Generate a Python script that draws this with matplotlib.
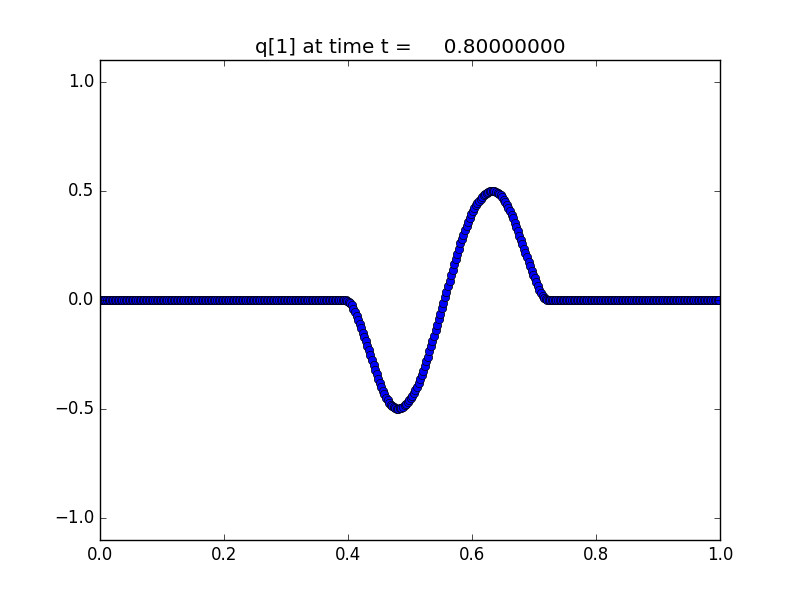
import numpy as np
import matplotlib
matplotlib.use('Agg')
import matplotlib.pyplot as plt

# q[1] at t = 0.8 on 400 cells of [0, 1]
mx = 400
t_frame = 0.8

n_left = 158
pulse = [
	-0.001, -0.004, -0.008, -0.015, -0.025, -0.039, -0.056, -0.074, -0.091, -0.11,
	-0.13, -0.15, -0.17, -0.19, -0.21, -0.231, -0.254, -0.276, -0.299, -0.32,
	-0.34, -0.36, -0.38, -0.399, -0.416, -0.433, -0.448, -0.46, -0.47, -0.479,
	-0.486, -0.492, -0.496, -0.498, -0.499, -0.497, -0.495, -0.49, -0.483, -0.476,
	-0.469, -0.46, -0.45, -0.439, -0.426, -0.413, -0.398, -0.381, -0.364, -0.345,
	-0.325, -0.304, -0.281, -0.259, -0.236, -0.213, -0.188, -0.163, -0.138, -0.113,
	-0.088, -0.063, -0.038, -0.013, 0.013, 0.038, 0.063, 0.088, 0.113, 0.138,
	0.163, 0.188, 0.213, 0.236, 0.259, 0.28, 0.30, 0.32, 0.34, 0.359,
	0.376, 0.393, 0.408, 0.421, 0.434, 0.445, 0.455, 0.464, 0.473, 0.48,
	0.487, 0.492, 0.495, 0.498, 0.499, 0.50, 0.499, 0.496, 0.492, 0.486,
	0.479, 0.47, 0.46, 0.449, 0.436, 0.423, 0.408, 0.391, 0.374, 0.355,
	0.335, 0.315, 0.295, 0.275, 0.255, 0.235, 0.215, 0.195, 0.175, 0.155,
	0.135, 0.116, 0.099, 0.081, 0.064, 0.048, 0.033, 0.02, 0.01, 0.003,
]
n_right = mx - n_left - len(pulse)

q1 = np.array([0.0] * n_left + pulse + [0.0] * n_right)
dx = 1.0 / mx
xc = dx * (np.arange(mx) + 0.5)

plt.style.use('classic')
fig = plt.figure(figsize=(8, 6), dpi=100, facecolor='white')
ax = fig.add_subplot(111)

ax.plot(xc, q1, 'bo', markersize=6, markeredgecolor='black')

ax.set_xlim(0.0, 1.0)
ax.set_ylim(-1.1, 1.1)
ax.set_yticks([-1.0, -0.5, 0.0, 0.5, 1.0])
ax.set_title('q[1] at time t = %14.8f' % t_frame)

fig.savefig('out.png', dpi=100, facecolor='white')
